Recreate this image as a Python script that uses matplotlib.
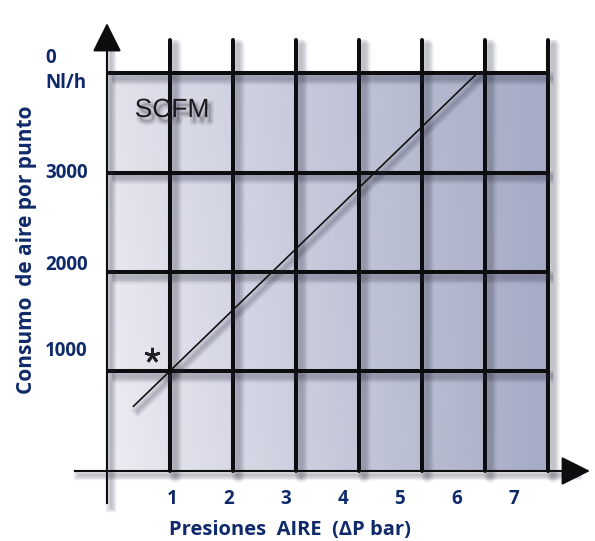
import numpy as np
import matplotlib
matplotlib.use('Agg')
import matplotlib.pyplot as plt
import matplotlib.patheffects as pe

# chart values
pressure_grid = [1, 2, 3, 4, 5, 6, 7]
x_tick_labels = ['1', '2', '3', '4', '5', '6', '7']
flow_grid = [1000, 2000, 3000, 4000]
y_tick_labels = ['1000', '2000', '3000', '0\nNl/h']
curve_bar = [0.42, 5.88]
curve_flow = [650, 4000]
mark_bar = [0.71]
mark_flow = [1170]

navy = '#0f2a6a'
font = ['Open Sans', 'DejaVu Sans']


def shadow(off=3.5, width=3.0):
    fx = [pe.SimpleLineShadow(offset=(off, -off), shadow_color='#2a2d40',
                              alpha=0.08, rho=1, linewidth=width + k * 2)
          for k in range(4)]
    return fx + [pe.Normal()]


fig = plt.figure(figsize=(5.95, 5.41), dpi=100)
ax = fig.add_axes([0, 0, 1, 1])
ax.set_xlim(-1.698, 7.746)
ax.set_ylim(-704, 4734)
ax.axis('off')

# background gradient of the grid area
gx = np.linspace(0, 1, 200)
gy = np.linspace(0, 1, 200)
GX, GY = np.meshgrid(gx, gy)
light = np.array([0.96, 0.96, 0.975])
dark = np.array([0.645, 0.665, 0.77])
t = np.clip(0.1 + 0.88 * GX ** 0.95 + 0.14 * GY * (1 - GX), 0, 1)
img = light[None, None, :] * (1 - t[..., None]) + dark[None, None, :] * t[..., None]
ax.imshow(img, extent=[0, 7, 0, 4000], origin='lower', aspect='auto', zorder=0)

# grid lines
for xv in pressure_grid:
    ax.plot([xv, xv], [0, 4330], color='#0d0d10', lw=2.9,
            solid_capstyle='round', zorder=3, path_effects=shadow())
for yv in flow_grid:
    ax.plot([0, 7], [yv, yv], color='#0d0d10', lw=2.9,
            solid_capstyle='butt', zorder=3, path_effects=shadow())

# axes with arrows
ax.plot([0, 0], [-320, 4300], color='#0d0d10', lw=1.5, zorder=4,
        path_effects=shadow(3, 1.5))
ax.plot([-0.51, 7.4], [0, 0], color='#0d0d10', lw=1.5, zorder=4,
        path_effects=shadow(3, 1.5))
head = '-|>,head_length=0.9,head_width=0.45'
ax.annotate('', xy=(0, 4530), xytext=(0, 4200),
            arrowprops=dict(arrowstyle=head, color='#0d0d10', lw=1.5,
                            mutation_scale=20), zorder=5)
ax.annotate('', xy=(7.71, 0), xytext=(7.3, 0),
            arrowprops=dict(arrowstyle=head, color='#0d0d10', lw=1.5,
                            mutation_scale=20), zorder=5)

# consumption line and marker
ax.plot(curve_bar, curve_flow, color='#111111', lw=1.2, zorder=6,
        path_effects=shadow(3, 1.2))
ax.plot(mark_bar, mark_flow, linestyle='none', marker=(5, 2, 0), ms=11,
        mew=2, color='#222222', zorder=6)

# soft shadow under the SCFM label
text_shadow = [pe.Stroke(linewidth=5 - k, foreground='#3a3a48', alpha=0.05,
                         offset=(2.5, -3.5)) for k in range(4)] + [pe.Normal()]
ax.text(1.03, 3628, 'SCFM', family=['Liberation Sans', 'DejaVu Sans'],
        fontsize=19, color='#1c1c1e', ha='center', va='center', zorder=7,
        path_effects=text_shadow)

# tick labels
for i, lab in enumerate(x_tick_labels):
    ax.text(1.03 + 0.905 * i, -281, lab, family=font, fontweight='bold',
            fontsize=13.5, color=navy, ha='center', va='center')
label_y = [1206, 2070, 2995, 4025]
for yv, lab in zip(label_y, y_tick_labels):
    ax.text(-0.984, yv, lab, family=font, fontweight='bold', fontsize=13.5,
            color=navy, ha='left', va='center', linespacing=1.3)

ax.text(2.90, -593, 'Presiones  AIRE  (\u0394P bar)', family=font,
        fontweight='bold', fontsize=14.5, color=navy, ha='center', va='center')
ax.text(-1.28, 2221, 'Consumo  de aire por punto', family=font,
        fontweight='bold', fontsize=15, color=navy, ha='center', va='center',
        rotation=90)

fig.savefig('out.png', dpi=100)
